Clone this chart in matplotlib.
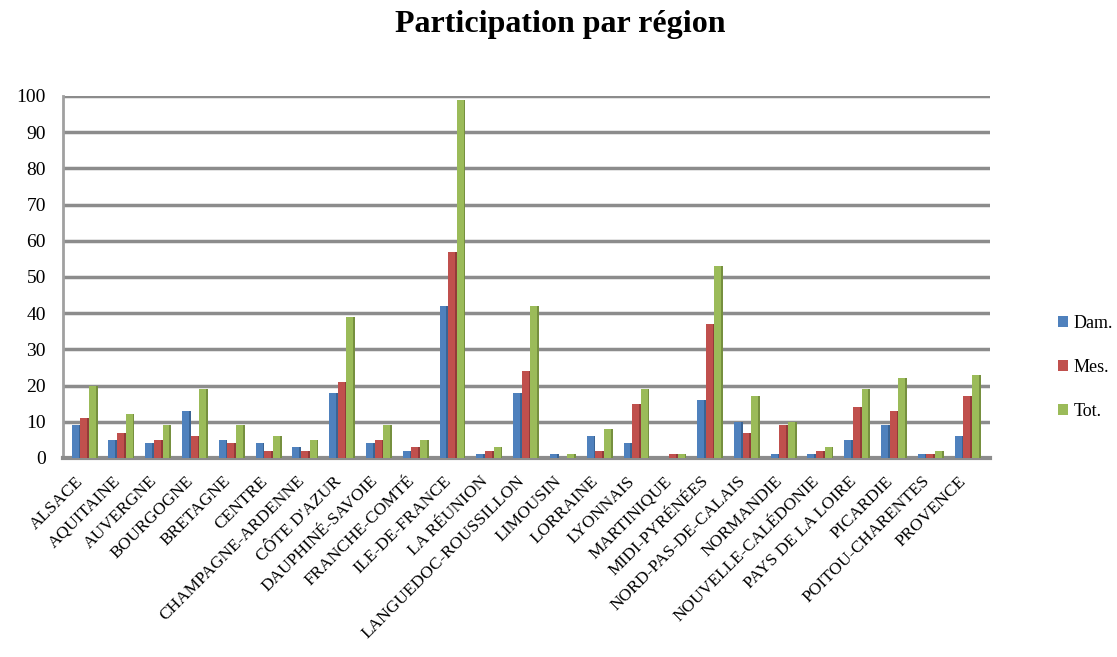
import numpy as np
import matplotlib.pyplot as plt

# régions et participations
regions = ["ALSACE", "AQUITAINE", "AUVERGNE", "BOURGOGNE", "BRETAGNE", "CENTRE",
           "CHAMPAGNE-ARDENNE", "CÔTE D'AZUR", "DAUPHINÉ-SAVOIE", "FRANCHE-COMTÉ",
           "ILE-DE-FRANCE", "LA RÉUNION", "LANGUEDOC-ROUSSILLON", "LIMOUSIN",
           "LORRAINE", "LYONNAIS", "MARTINIQUE", "MIDI-PYRÉNÉES",
           "NORD-PAS-DE-CALAIS", "NORMANDIE", "NOUVELLE-CALÉDONIE",
           "PAYS DE LA LOIRE", "PICARDIE", "POITOU-CHARENTES", "PROVENCE"]
dames = [9, 5, 4, 13, 5, 4, 3, 18, 4, 2, 42, 1, 18, 1, 6, 4, 0, 16, 10, 1, 1, 5, 9, 1, 6]
messieurs = [11, 7, 5, 6, 4, 2, 2, 21, 5, 3, 57, 2, 24, 0, 2, 15, 1, 37, 7, 9, 2, 14, 13, 1, 17]
total = [20, 12, 9, 19, 9, 6, 5, 39, 9, 5, 99, 3, 42, 1, 8, 19, 1, 53, 17, 10, 3, 19, 22, 2, 23]

series = [("Dam.", dames, "#4F81BD", "#3A6494"),
          ("Mes.", messieurs, "#C0504D", "#933B39"),
          ("Tot.", total, "#9BBB59", "#76903F")]

plt.rcParams['font.family'] = ['Liberation Serif', 'DejaVu Serif']

fig = plt.figure(figsize=(11.17, 6.57), dpi=100)
ax = fig.add_axes([0.056, 0.303, 0.83, 0.551])

x = np.arange(len(regions))
w = 0.235
for i, (name, vals, col, dark) in enumerate(series):
    pos = x + (i - 1) * w
    ax.bar(pos, vals, width=w, color=col, label=name, zorder=3, linewidth=0)
    # face latérale plus sombre (effet 3D)
    ax.bar(pos + w * 0.4, vals, width=w * 0.2, color=dark, zorder=3, linewidth=0)

ax.set_ylim(0, 100)
ax.set_xlim(-0.6, len(regions) - 0.4)
ax.set_yticks(range(0, 101, 10))
ax.yaxis.grid(True, color="#8C8C8C", linewidth=2.5, zorder=0)
ax.set_axisbelow(True)
for s in ["top", "right"]:
    ax.spines[s].set_visible(False)
ax.spines["left"].set_color("#A0A0A0")
ax.spines["left"].set_linewidth(2)
ax.spines["bottom"].set_color("#8C8C8C")
ax.spines["bottom"].set_linewidth(3)
ax.tick_params(axis="both", length=0)
ax.tick_params(axis="y", pad=12, labelsize=14)
ax.tick_params(axis="x", pad=11)

ax.set_xticks(x - 0.25)
ax.set_xticklabels(regions, rotation=45, ha="right", rotation_mode="anchor", fontsize=12.5)

fig.text(0.502, 0.962, "Participation par région", fontsize=23, fontweight="bold",
         ha="center", va="center")

ax.legend(loc="center left", bbox_to_anchor=(1.074, 0.25), frameon=False,
          fontsize=13, handlelength=0.55, handleheight=0.55, labelspacing=1.5,
          handletextpad=0.3, borderaxespad=0, borderpad=0)

fig.savefig("out.png", dpi=100)
